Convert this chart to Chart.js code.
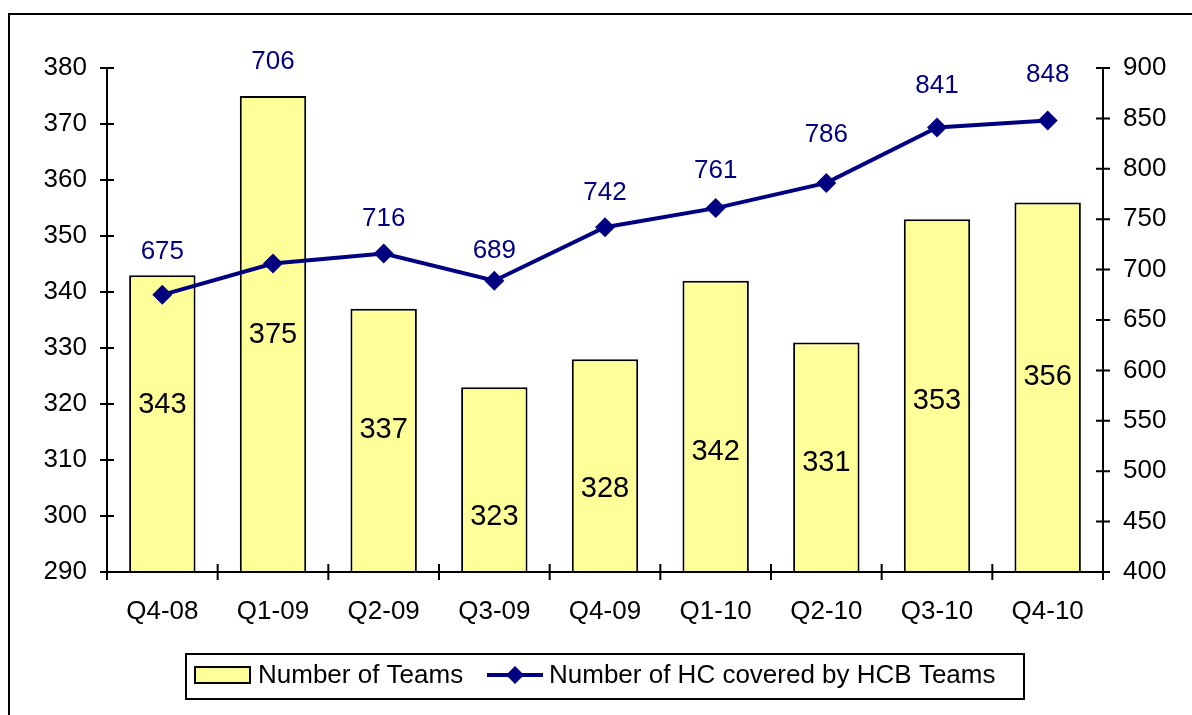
<!DOCTYPE html>
<html>
<head>
<meta charset="utf-8">
<script src="https://cdn.jsdelivr.net/npm/chart.js@4.4.1/dist/chart.umd.min.js"></script>
<style>
  html, body { margin: 0; padding: 0; background: #fff; }
  #wrap { width: 1192px; height: 715px; position: relative; }
</style>
</head>
<body>
<div id="wrap"><canvas id="teamsChart" width="1192" height="715"></canvas></div>
<script>
// data
const quarters = ["Q4-08", "Q1-09", "Q2-09", "Q3-09", "Q4-09", "Q1-10", "Q2-10", "Q3-10", "Q4-10"];
const teams = [343, 375, 337, 323, 328, 342, 331, 353, 356];
const hcCovered = [675, 706, 716, 689, 742, 761, 786, 841, 848];

// where the value labels sit (in each axis' own units), they were hand placed in the original
const teamLabelAt = [319.8, 332.3, 315.4, 299.8, 304.8, 311.4, 309.5, 320.5, 324.8];
const hcLabelAt = [717.5, 906, 750, 718.5, 776, 798, 833.5, 882, 893];

const FONT = "'Liberation Sans', Arial, sans-serif";
const NAVY = "#000080";
const BAR_FILL = "#FFFF99";

// frame, axes with cross ticks, value labels and the boxed legend
const decorPlugin = {
    id: "decor",
    beforeDraw(chart) {
        const ctx = chart.ctx;
        ctx.save();
        ctx.fillStyle = "#fff";
        ctx.fillRect(0, 0, chart.width, chart.height);
        ctx.strokeStyle = "#000";
        ctx.lineWidth = 2;
        ctx.strokeRect(9, 14, chart.width + 20, chart.height + 20);
        ctx.restore();
    },
    afterDatasetsDraw(chart) {
        const ctx = chart.ctx;
        const area = chart.chartArea;
        const x = chart.scales.x, y = chart.scales.y, y1 = chart.scales.y1;

        ctx.save();
        ctx.strokeStyle = "#000";
        ctx.lineWidth = 2;
        ctx.beginPath();
        // axis lines
        ctx.moveTo(area.left, area.top); ctx.lineTo(area.left, area.bottom + 8);
        ctx.moveTo(area.right, area.top); ctx.lineTo(area.right, area.bottom + 8);
        ctx.moveTo(area.left, area.bottom); ctx.lineTo(area.right, area.bottom);
        // cross ticks on the value axes
        y.ticks.forEach(t => {
            const py = y.getPixelForValue(t.value);
            ctx.moveTo(area.left - 7, py); ctx.lineTo(area.left + 7, py);
        });
        y1.ticks.forEach(t => {
            const py = y1.getPixelForValue(t.value);
            ctx.moveTo(area.right - 7, py); ctx.lineTo(area.right + 7, py);
        });
        // category boundary ticks
        const step = (area.right - area.left) / quarters.length;
        for (let i = 1; i < quarters.length; i++) {
            const px = area.left + step * i;
            ctx.moveTo(px, area.bottom - 8); ctx.lineTo(px, area.bottom + 8);
        }
        ctx.stroke();

        // value labels
        ctx.textAlign = "center";
        ctx.textBaseline = "middle";
        ctx.font = "29px " + FONT;
        ctx.fillStyle = "#000";
        teams.forEach((v, i) => {
            ctx.fillText(String(v), x.getPixelForValue(i), y.getPixelForValue(teamLabelAt[i]));
        });
        ctx.font = "26px " + FONT;
        ctx.fillStyle = NAVY;
        hcCovered.forEach((v, i) => {
            ctx.fillText(String(v), x.getPixelForValue(i), y1.getPixelForValue(hcLabelAt[i]));
        });
        ctx.restore();
    },
    afterDraw(chart) {
        const ctx = chart.ctx;
        const names = chart.data.datasets.map(d => d.label);
        ctx.save();
        // legend box
        ctx.strokeStyle = "#000";
        ctx.lineWidth = 2;
        ctx.strokeRect(186, 654, 838, 45);
        const cy = 675;
        // bar swatch
        ctx.fillStyle = BAR_FILL;
        ctx.fillRect(195, cy - 8, 55, 16);
        ctx.strokeRect(195, cy - 8, 55, 16);
        // line swatch with diamond
        ctx.strokeStyle = NAVY;
        ctx.lineWidth = 4;
        ctx.beginPath();
        ctx.moveTo(487, cy); ctx.lineTo(543, cy);
        ctx.stroke();
        ctx.fillStyle = NAVY;
        ctx.beginPath();
        ctx.moveTo(515, cy - 9); ctx.lineTo(524, cy); ctx.lineTo(515, cy + 9); ctx.lineTo(506, cy);
        ctx.closePath();
        ctx.fill();
        // texts
        ctx.fillStyle = "#000";
        ctx.font = "26px " + FONT;
        ctx.textAlign = "left";
        ctx.textBaseline = "middle";
        ctx.fillText(names[1], 258, cy + 1);
        ctx.fillText(names[0], 549, cy + 1);
        ctx.restore();
    }
};

const ctx = document.getElementById("teamsChart").getContext("2d");

const teamsChart = new Chart(ctx, {
    data: {
        labels: quarters,
        datasets: [
            {
                type: "line",
                label: "Number of HC covered by HCB Teams",
                data: hcCovered,
                yAxisID: "y1",
                borderColor: NAVY,
                backgroundColor: NAVY,
                borderWidth: 4,
                pointStyle: "rectRot",
                pointRadius: 10,
                pointBackgroundColor: NAVY,
                pointBorderWidth: 0,
                tension: 0,
                order: 1
            },
            {
                type: "bar",
                label: "Number of Teams",
                data: teams,
                yAxisID: "y",
                backgroundColor: BAR_FILL,
                borderColor: "#000",
                borderWidth: 2,
                borderSkipped: false,
                categoryPercentage: 1,
                barPercentage: 0.6,
                order: 2
            }
        ]
    },
    options: {
        responsive: false,
        animation: false,
        layout: { padding: { top: 68, left: 0, right: 0, bottom: 0 } },
        plugins: {
            legend: { display: false },
            tooltip: { enabled: false }
        },
        scales: {
            x: {
                type: "category",
                grid: { display: false },
                border: { display: false },
                ticks: { color: "#000", font: { family: FONT, size: 26 }, padding: 16, maxRotation: 0 },
                afterFit(scale) { scale.height = 143; }
            },
            y: {
                position: "left",
                min: 290,
                max: 380,
                grid: { display: false },
                border: { display: false },
                ticks: { stepSize: 10, color: "#000", font: { family: FONT, size: 26 }, padding: 12 },
                afterFit(scale) { scale.width = 107; }
            },
            y1: {
                position: "right",
                min: 400,
                max: 900,
                grid: { display: false },
                border: { display: false },
                ticks: { stepSize: 50, color: "#000", font: { family: FONT, size: 26 }, padding: 12 },
                afterFit(scale) { scale.width = 89; }
            }
        }
    },
    plugins: [decorPlugin]
});
</script>
</body>
</html>
